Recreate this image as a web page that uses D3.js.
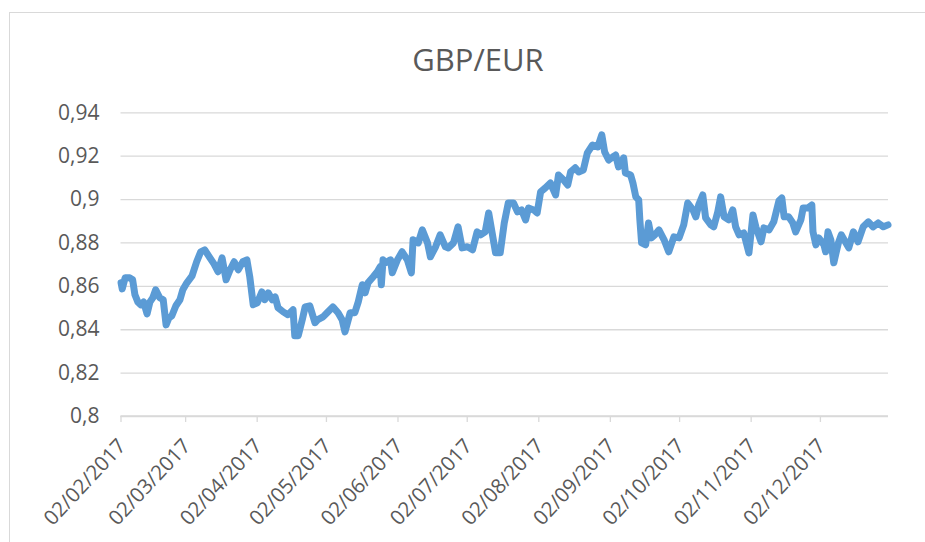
<!DOCTYPE html>
<html>
<head>
<meta charset="utf-8">
<script src="https://cdn.jsdelivr.net/npm/d3@7"></script>
<style>
  html, body { margin: 0; padding: 0; background: #fff; }
  svg { display: block; }
  text { font-family: "Open Sans", "Noto Sans", sans-serif; fill: #595959; }
</style>
</head>
<body>
<svg id="chart" width="925" height="542"></svg>
<script>
const title = "GBP/EUR";
const yTicks = [0.8, 0.82, 0.84, 0.86, 0.88, 0.9, 0.92, 0.94];
const xTickLabels = ["02/02/2017","02/03/2017","02/04/2017","02/05/2017","02/06/2017","02/07/2017",
  "02/08/2017","02/09/2017","02/10/2017","02/11/2017","02/12/2017"];
const dates = [
 "2017-02-02 06","2017-02-02 18","2017-02-04 00","2017-02-06 00","2017-02-07 06","2017-02-08 06","2017-02-09 12","2017-02-10 18","2017-02-12 00","2017-02-13 12",
 "2017-02-14 18","2017-02-16 00","2017-02-17 06","2017-02-19 00","2017-02-20 12","2017-02-21 18","2017-02-23 00","2017-02-24 06","2017-02-26 00","2017-02-27 18",
 "2017-03-01 00","2017-03-02 18","2017-03-05 00","2017-03-07 00","2017-03-08 18","2017-03-10 12","2017-03-12 18","2017-03-14 12","2017-03-16 06","2017-03-18 00",
 "2017-03-19 18","2017-03-21 12","2017-03-23 06","2017-03-25 00","2017-03-27 00","2017-03-28 18","2017-03-30 00","2017-03-31 12","2017-04-02 06","2017-04-04 06",
 "2017-04-05 12","2017-04-07 00","2017-04-08 18","2017-04-10 00","2017-04-11 06","2017-04-13 12","2017-04-15 12","2017-04-17 18","2017-04-18 12","2017-04-20 00",
 "2017-04-21 18","2017-04-23 00","2017-04-25 00","2017-04-27 06","2017-04-28 12","2017-04-30 18","2017-05-02 12","2017-05-05 00","2017-05-07 06","2017-05-09 00",
 "2017-05-10 06","2017-05-12 12","2017-05-14 12","2017-05-16 00","2017-05-17 18","2017-05-19 00","2017-05-20 06","2017-05-22 12","2017-05-24 06","2017-05-25 12",
 "2017-05-26 00","2017-05-26 18","2017-05-27 18","2017-05-30 00","2017-05-30 18","2017-06-02 00","2017-06-04 00","2017-06-06 06","2017-06-08 00","2017-06-08 18",
 "2017-06-11 00","2017-06-12 18","2017-06-15 00","2017-06-16 06","2017-06-18 12","2017-06-20 12","2017-06-22 18","2017-06-24 00","2017-06-26 06","2017-06-28 06",
 "2017-06-30 00","2017-07-02 06","2017-07-04 12","2017-07-06 12","2017-07-08 00","2017-07-10 00","2017-07-11 12","2017-07-13 00","2017-07-14 12","2017-07-16 12",
 "2017-07-18 06","2017-07-20 00","2017-07-22 06","2017-07-24 00","2017-07-25 18","2017-07-27 12","2017-07-28 18","2017-07-31 00","2017-08-01 12","2017-08-03 00",
 "2017-08-05 00","2017-08-07 06","2017-08-09 12","2017-08-10 18","2017-08-13 00","2017-08-14 18","2017-08-16 00","2017-08-18 00","2017-08-19 12","2017-08-21 12",
 "2017-08-23 06","2017-08-25 12","2017-08-27 18","2017-08-29 12","2017-08-30 18","2017-09-01 12","2017-09-03 06","2017-09-04 12","2017-09-05 18","2017-09-08 00",
 "2017-09-08 18","2017-09-11 00","2017-09-12 00","2017-09-13 06","2017-09-14 12","2017-09-15 00","2017-09-15 18","2017-09-17 12","2017-09-18 18","2017-09-20 00",
 "2017-09-21 12","2017-09-23 06","2017-09-25 12","2017-09-27 12","2017-09-29 18","2017-10-02 00","2017-10-04 00","2017-10-05 18","2017-10-08 00","2017-10-09 06",
 "2017-10-10 12","2017-10-12 06","2017-10-13 12","2017-10-15 18","2017-10-17 00","2017-10-18 18","2017-10-20 00","2017-10-21 12","2017-10-23 12","2017-10-25 06",
 "2017-10-26 12","2017-10-28 00","2017-10-30 00","2017-11-01 06","2017-11-03 00","2017-11-04 06","2017-11-06 12","2017-11-07 18","2017-11-10 00","2017-11-12 00",
 "2017-11-14 06","2017-11-15 12","2017-11-16 12","2017-11-18 12","2017-11-20 06","2017-11-21 12","2017-11-23 18","2017-11-24 18","2017-11-26 18","2017-11-28 12",
 "2017-11-29 00","2017-11-30 06","2017-12-01 12","2017-12-03 18","2017-12-04 12","2017-12-05 12","2017-12-06 18","2017-12-08 00","2017-12-10 00","2017-12-11 06",
 "2017-12-12 12","2017-12-14 12","2017-12-16 12","2017-12-18 12","2017-12-20 18","2017-12-23 00","2017-12-25 00","2017-12-27 06","2017-12-29 12","2017-12-31 12"
];
const rates = [
 0.8614,0.8586,0.8637,0.8637,0.8628,0.8559,0.8526,0.8513,0.8526,0.8471,
 0.8526,0.8545,0.8582,0.8545,0.8536,0.8420,0.8453,0.8462,0.8508,0.8536,
 0.8582,0.8614,0.8646,0.8711,0.8757,0.8766,0.8729,0.8701,0.8665,0.8729,
 0.8628,0.8674,0.8711,0.8674,0.8711,0.8720,0.8642,0.8513,0.8522,0.8572,
 0.8536,0.8568,0.8536,0.8549,0.8499,0.8480,0.8467,0.8490,0.8370,0.8370,
 0.8444,0.8503,0.8508,0.8430,0.8444,0.8457,0.8476,0.8503,0.8476,0.8444,
 0.8388,0.8476,0.8476,0.8526,0.8605,0.8568,0.8614,0.8642,0.8665,0.8688,
 0.8605,0.8720,0.8706,0.8720,0.8660,0.8720,0.8757,0.8720,0.8660,0.8812,
 0.8798,0.8858,0.8798,0.8734,0.8780,0.8835,0.8780,0.8775,0.8798,0.8872,
 0.8775,0.8780,0.8766,0.8849,0.8835,0.8849,0.8936,0.8844,0.8752,0.8752,
 0.8890,0.8982,0.8982,0.8941,0.8950,0.8904,0.8959,0.8950,0.8936,0.9033,
 0.9051,0.9074,0.9019,0.9111,0.9088,0.9065,0.9125,0.9144,0.9125,0.9134,
 0.9213,0.9249,0.9240,0.9296,0.9217,0.9180,0.9194,0.9203,0.9148,0.9190,
 0.9120,0.9111,0.9074,0.9010,0.8996,0.8904,0.8798,0.8789,0.8890,0.8821,
 0.8835,0.8858,0.8812,0.8757,0.8826,0.8821,0.8881,0.8982,0.8950,0.8918,
 0.8973,0.9019,0.8913,0.8881,0.8872,0.8941,0.9010,0.8918,0.8904,0.8950,
 0.8872,0.8835,0.8844,0.8752,0.8927,0.8872,0.8803,0.8867,0.8858,0.8895,
 0.8992,0.9005,0.8918,0.8918,0.8890,0.8849,0.8904,0.8959,0.8959,0.8973,
 0.8849,0.8789,0.8821,0.8789,0.8757,0.8849,0.8812,0.8706,0.8798,0.8835,
 0.8812,0.8775,0.8849,0.8803,0.8872,0.8895,0.8872,0.8890,0.8872,0.8881
];

const parse = d3.timeParse("%Y-%m-%d %H");
const parseTick = d3.timeParse("%d/%m/%Y");
const data = dates.map((d, i) => ({ date: parse(d), value: rates[i] }));
const tickDates = xTickLabels.map(parseTick);

const svg = d3.select("#chart");
const plotLeft = 120.5, plotRight = 888, plotTop = 112.3, plotBottom = 416;

// chart area border
svg.append("rect").attr("x", 9.5).attr("y", 12.5).attr("width", 940).attr("height", 560)
  .attr("fill", "#fff").attr("stroke", "#d9d9d9").attr("stroke-width", 1);

const x = d3.scaleTime()
  .domain([parse("2017-02-02 00"), parse("2017-12-31 12")])
  .range([plotLeft, plotRight]);
const y = d3.scaleLinear().domain([0.8, 0.94]).range([plotBottom, plotTop]);

const fmt = v => d3.format(".2~f")(v).replace(".", ",");

// gridlines + y labels
const yAxis = d3.axisLeft(y).tickValues(yTicks).tickSize(-(plotRight - plotLeft)).tickFormat(fmt).tickPadding(21);
const gy = svg.append("g").attr("transform", `translate(${plotLeft},0)`).call(yAxis);
gy.select(".domain").remove();
gy.selectAll(".tick line").attr("stroke", "#d9d9d9").attr("stroke-width", 1.3);
gy.selectAll(".tick text")
  .attr("font-size", 21).attr("fill", "#595959")
  .style("font-family", '"Open Sans", sans-serif');

// x axis
const xAxis = d3.axisBottom(x).tickValues(tickDates).tickSize(6).tickFormat((d, i) => xTickLabels[i]);
const gx = svg.append("g").attr("transform", `translate(0,${plotBottom})`).call(xAxis);
gx.select(".domain").attr("stroke", "#d9d9d9").attr("stroke-width", 1.3)
  .attr("d", `M${plotLeft},0H${plotRight}`);
gx.selectAll(".tick line").attr("stroke", "#d9d9d9").attr("stroke-width", 1.3);
gx.selectAll(".tick text")
  .attr("font-size", 20.5).attr("fill", "#595959")
  .style("font-family", '"Open Sans", sans-serif')
  .attr("text-anchor", "end")
  .attr("dy", 0).attr("y", 0)
  .attr("transform", "translate(6,31) rotate(-47)");

// line
const line = d3.line().x(d => x(d.date)).y(d => y(d.value));
svg.append("path").datum(data)
  .attr("fill", "none").attr("stroke", "#5B9BD5").attr("stroke-width", 7)
  .attr("stroke-linejoin", "round").attr("stroke-linecap", "round")
  .attr("d", line);

// title
svg.append("text").attr("x", 478).attr("y", 71).attr("text-anchor", "middle")
  .attr("font-size", 31).attr("fill", "#595959").text(title);
</script>
</body>
</html>
